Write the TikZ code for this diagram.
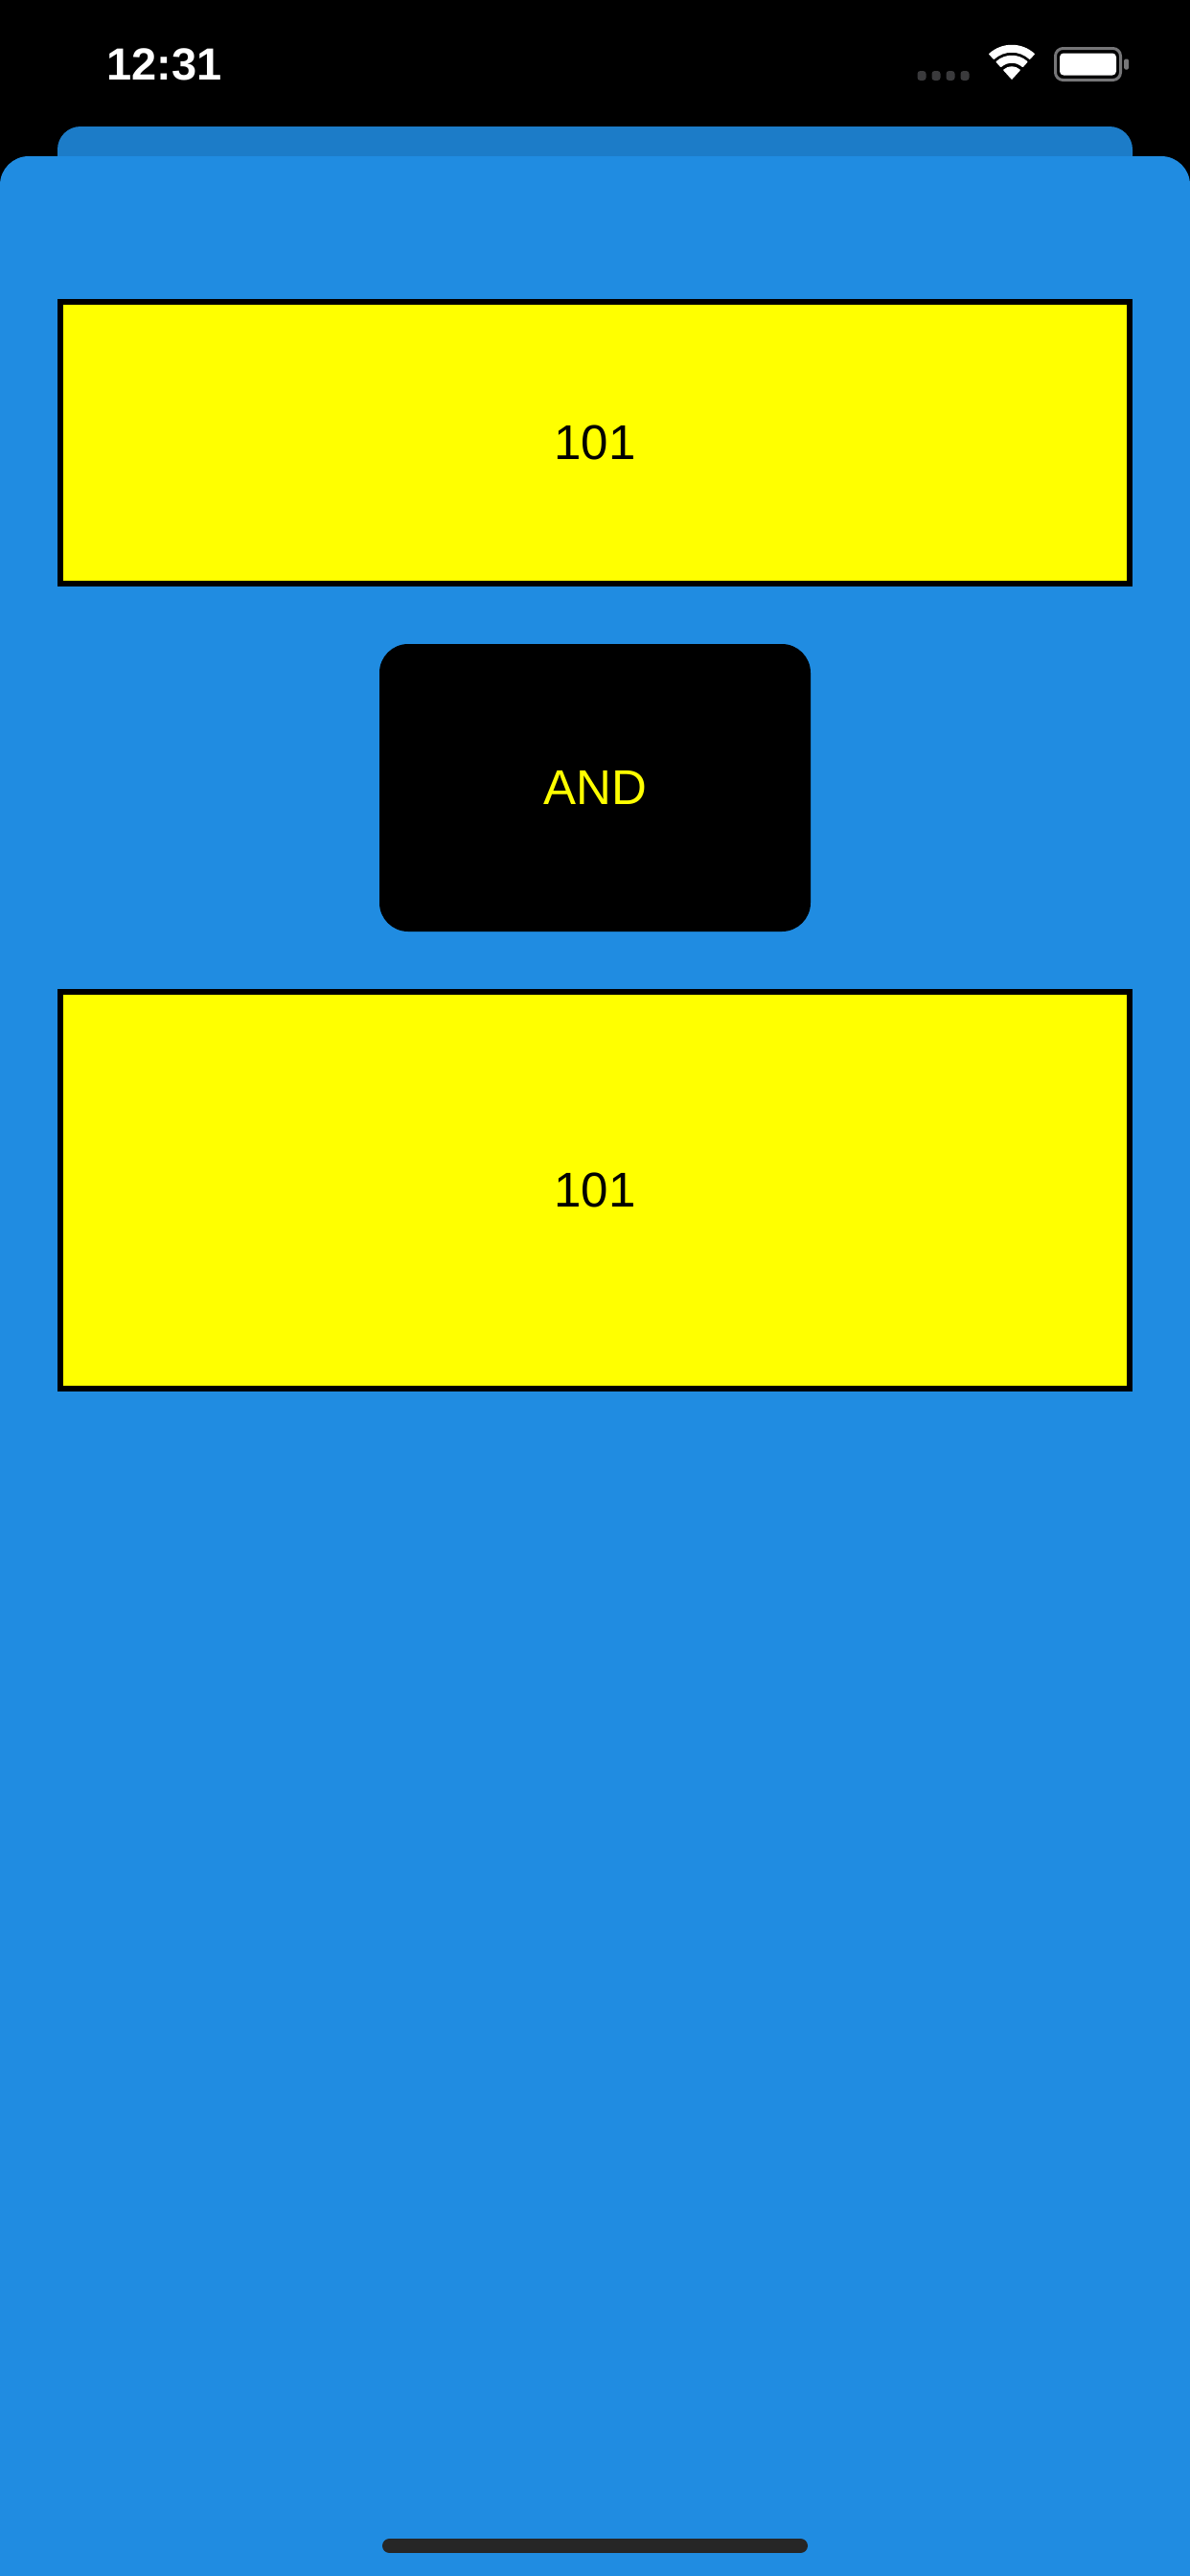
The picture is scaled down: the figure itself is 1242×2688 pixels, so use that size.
\documentclass[tikz,border=0pt]{standalone}
\usepackage{fontspec}
\setmainfont{Liberation Sans}
\definecolor{mainblue}{RGB}{32,140,225}
\definecolor{backblue}{RGB}{28,124,200}
\definecolor{dotgray}{RGB}{58,58,60}
\definecolor{battgray}{RGB}{118,118,120}
\definecolor{homebar}{RGB}{38,38,38}
\definecolor{ybox}{RGB}{255,255,0}
\tikzset{
  valuebox/.style={draw=black, fill=ybox, line width=6pt, inner sep=0pt, text=black,
    font=\fontsize{51}{51}\selectfont},
  opbox/.style={fill=black, rounded corners=30pt, inner sep=0pt, text=ybox,
    font=\fontsize{51}{51}\selectfont},
  sigdot/.style={fill=dotgray, rounded corners=3pt},
}
\begin{document}
\begin{tikzpicture}[x=1pt,y=-1pt]
\useasboundingbox (0,0) rectangle (1242,2688);
\clip (0,0) rectangle (1242,2688);
% background
\fill[black] (0,0) rectangle (1242,2688);
% status bar
\node[text=white, font=\bfseries\fontsize{47}{47}\selectfont, inner sep=0pt] (time) at (171.5,67) {12:31};
\foreach \cx in {962,977,992,1007}{
  \fill[sigdot] (\cx-4.5,74) rectangle (\cx+4.5,84);
}
% wifi
\begin{scope}[white, line width=1.5pt, line join=round]
\filldraw (1056,82) -- ++(48:12pt) arc[start angle=48,end angle=132,radius=12pt] -- cycle;
\filldraw (1056,82) ++(48:17pt) -- ++(48:6.5pt) arc[start angle=48,end angle=132,radius=23.5pt] -- ++(312:6.5pt) arc[start angle=132,end angle=48,radius=17pt] -- cycle;
\filldraw (1056,82) ++(48:28pt) -- ++(48:6.5pt) arc[start angle=48,end angle=132,radius=34.5pt] -- ++(312:6.5pt) arc[start angle=132,end angle=48,radius=28pt] -- cycle;
\end{scope}
% battery
\draw[battgray, line width=3pt, rounded corners=8pt] (1101.5,50.5) rectangle (1169.5,83.5);
\fill[white, rounded corners=4pt] (1106,55.5) rectangle (1165,78.5);
\fill[battgray, rounded corners=1.5pt] (1173,61.5) rectangle (1178,72.5);
% sheets
\fill[backblue, rounded corners=24pt] (60,132) rectangle (1182,400);
\fill[mainblue, rounded corners=30pt] (0,163) rectangle (1242,2800);
% content
\node[valuebox, minimum width=1116pt, minimum height=294pt] (top) at (621,462) {101};
\node[opbox, minimum width=450pt, minimum height=300pt] (op) at (621,822) {AND};
\node[valuebox, minimum width=1116pt, minimum height=414pt] (bottom) at (621,1242) {101};
% home indicator
\draw[homebar, line width=15pt, line cap=round] (406.5,2656.5) -- (835.5,2656.5);
\end{tikzpicture}
\end{document}
